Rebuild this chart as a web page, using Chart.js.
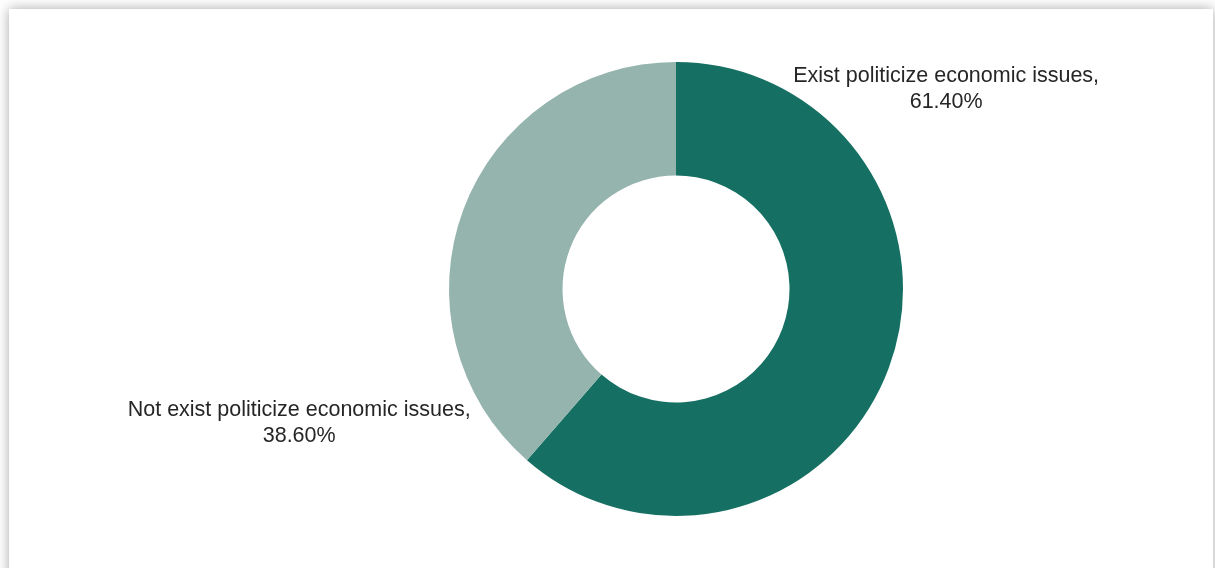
<!DOCTYPE html>
<html>
<head>
<meta charset="utf-8">
<script src="https://cdn.jsdelivr.net/npm/chart.js@4.4.1/dist/chart.umd.min.js"></script>
<style>
  html, body { margin: 0; padding: 0; background: #ffffff; overflow: hidden; }
  #card {
    position: absolute; left: 9px; top: 9px; width: 1204px; height: 600px;
    background: #ffffff;
    box-shadow: 0 0 12px rgba(0, 0, 0, 0.35);
  }
  #wrap { position: absolute; left: 0; top: 0; width: 1215px; height: 568px; }
</style>
</head>
<body>
<div id="card"></div>
<div id="wrap"><canvas id="donut"></canvas></div>
<script>
const categories = ["Exist politicize economic issues", "Not exist politicize economic issues"];
const shares = [61.40, 38.60];
const sliceColors = ["#156f62", "#95b4ae"];

// draws "name,\nvalue%" beside each slice, placed relative to the donut centre
const sliceLabels = {
    id: "sliceLabels",
    afterDatasetsDraw(chart, args, opts) {
        const ctx = chart.ctx;
        const meta = chart.getDatasetMeta(0);
        ctx.save();
        ctx.font = "21.5px 'Liberation Sans', Arial, sans-serif";
        ctx.fillStyle = "#262626";
        ctx.textAlign = "center";
        ctx.textBaseline = "middle";
        meta.data.forEach((arc, i) => {
            const r = arc.outerRadius;
            const off = opts.offsets[i];
            const cx = arc.x + off[0] * r;
            const cy = arc.y + off[1] * r;
            ctx.fillText(chart.data.labels[i] + ",", cx, cy - 13);
            ctx.fillText(chart.data.datasets[0].data[i].toFixed(2) + "%", cx, cy + 13);
        });
        ctx.restore();
    }
};

new Chart(document.getElementById("donut"), {
    type: "doughnut",
    data: {
        labels: categories,
        datasets: [{
            data: shares,
            backgroundColor: sliceColors,
            borderWidth: 0
        }]
    },
    options: {
        responsive: true,
        maintainAspectRatio: false,
        animation: false,
        cutout: "50%",
        layout: { padding: { left: 449, right: 312, top: 62, bottom: 52 } },
        plugins: {
            legend: { display: false },
            tooltip: { enabled: false },
            sliceLabels: { offsets: [[1.19, -0.88], [-1.66, 0.59]] }
        }
    },
    plugins: [sliceLabels]
});
</script>
</body>
</html>
